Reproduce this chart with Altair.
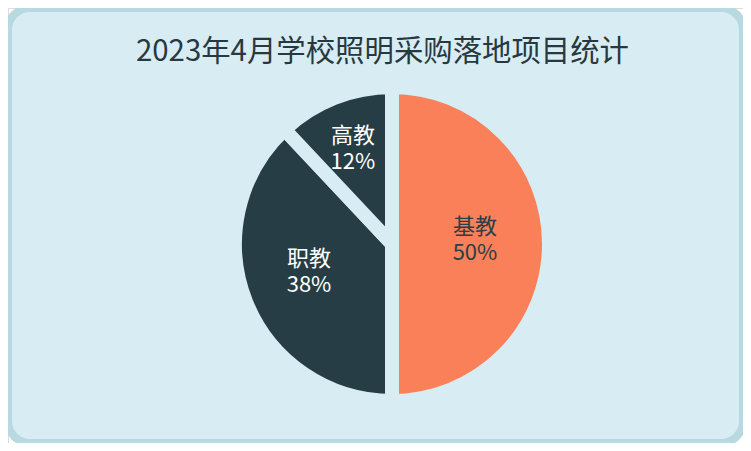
import altair as alt
import pandas as pd

categories = ["基教", "职教", "高教"]
values = [50, 38, 12]
pct_labels = ["50%", "38%", "12%"]
order_idx = [0, 1, 2]

df = pd.DataFrame({"cat": categories, "value": values, "pct": pct_labels, "ord": order_idx})

BG = "#d8ecf3"
BORDER = "#b7dae1"
ORANGE = "#f98059"
DARK = "#263d45"
TXT_DARK = "#2a3f46"
FONT = "Noto Sans CJK SC"
W, H = 735, 435
CX, CY = 384, 236

panel = alt.Chart(pd.DataFrame({"p": [0]})).mark_rect(
    fill=BG, stroke=BORDER, strokeWidth=8, cornerRadius=22
).encode(x=alt.value(0), x2=alt.value(W), y=alt.value(0), y2=alt.value(H))

arc = alt.Chart(df).mark_arc(outerRadius=157, stroke=BG, strokeWidth=14, x=CX, y=CY).encode(
    theta=alt.Theta("value:Q", stack=True),
    order=alt.Order("ord:Q"),
    color=alt.Color("cat:N", scale=alt.Scale(domain=categories, range=[ORANGE, DARK, DARK]), legend=None),
)

text = alt.Chart(df).transform_window(
    cum="sum(value)", sort=[alt.SortField("ord", order="ascending")]
).transform_joinaggregate(
    total="sum(value)"
).transform_calculate(
    mid="(datum.cum - datum.value / 2) / datum.total * 2 * PI",
    r="datum.value < 20 ? 98 : 86",
    label="datum.cat + '\\n' + datum.pct",
).transform_calculate(
    lx=f"{CX} + datum.r * sin(datum.mid)",
    ly=f"{CY} - datum.r * cos(datum.mid)",
).mark_text(
    font=FONT, fontSize=22, lineBreak="\n", lineHeight=26, baseline="middle", align="center",
    dx=-3, dy=-17,
).encode(
    x=alt.X("lx:Q", scale=None),
    y=alt.Y("ly:Q", scale=None),
    text="label:N",
    color=alt.Color("cat:N", scale=alt.Scale(domain=categories, range=[TXT_DARK, "#ffffff", "#ffffff"]), legend=None),
)

chart = alt.layer(panel, arc, text).resolve_scale(color="independent").properties(
    width=W,
    height=H,
    autosize=alt.AutoSizeParams(type="none"),
    padding=0,
    title=alt.Title(
        "2023年4月学校照明采购落地项目统计",
        font=FONT, fontSize=29.4, fontWeight="normal", color="#27393f",
        anchor="middle", dx=7, dy=67,
    ),
).configure_view(stroke=None).configure(background="white")

chart.save("out.html", embed_options={"renderer": "svg", "actions": False})
